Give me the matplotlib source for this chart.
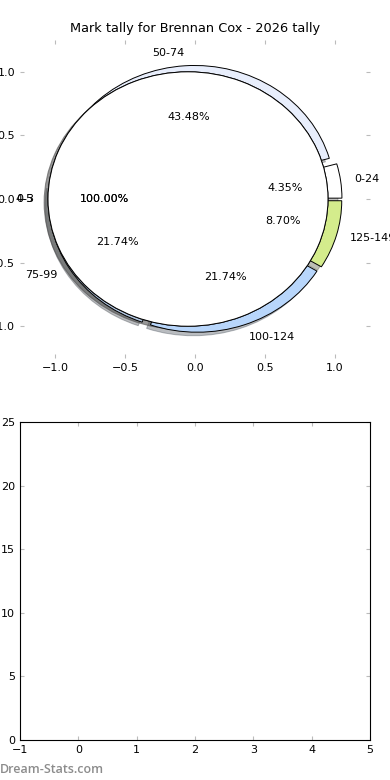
import matplotlib
matplotlib.use('Agg')
import matplotlib.pyplot as plt

# tally data
labels = ['0-24', '50-74', '75-99', '100-124', '125-149']
counts = [1, 10, 5, 5, 2]
colors = ['white', '#e8eefc', '#b0c4de', '#b8d6fb', '#d4ec8c']

# the two single-slice pies drawn on top
extra_labels = ['0-3', '4-5']
extra_counts = [1]

yticks_bar = [0, 5, 10, 15, 20, 25]
xticks_bar = [-1, 0, 1, 2, 3, 4, 5]

plt.rc('font', size=8)
fig = plt.figure(figsize=(3.9, 7.8), dpi=100)

ax1 = fig.add_axes([0.0513, 0.541, 0.8974, 0.4077])
ax1.pie(counts, labels=labels, colors=colors, explode=[0.05] * len(counts),
        autopct='%1.2f%%', shadow={'alpha': 0.35}, startangle=0,
        wedgeprops={'linewidth': 0.7, 'edgecolor': 'black'},
        textprops={'fontsize': 8})
for lab in extra_labels:
    ax1.pie(extra_counts, labels=[lab], colors=['white'], explode=[0.05],
            autopct='%1.2f%%', shadow={'alpha': 0.35}, startangle=0,
            wedgeprops={'linewidth': 0.7, 'edgecolor': 'black'},
            textprops={'fontsize': 8})
ax1.set_aspect('auto')
ax1.set_frame_on(False)
ax1.set_xlim(-1.25, 1.25)
ax1.set_ylim(-1.25, 1.25)
ax1.set_xticks([-1.0, -0.5, 0.0, 0.5, 1.0])
ax1.set_yticks([-1.0, -0.5, 0.0, 0.5, 1.0])
ax1.tick_params(direction='in', color='#bbbbbb', length=3, top=True, right=True,
                labelsize=8)
ax1.set_title('Mark tally for Brennan Cox - 2026 tally', fontsize=9.3)

ax2 = fig.add_axes([0.0513, 0.0513, 0.8974, 0.4077])
ax2.set_xlim(-1, 5)
ax2.set_ylim(0, 25)
ax2.set_xticks(xticks_bar)
ax2.set_yticks(yticks_bar)
ax2.tick_params(direction='in', color='#bbbbbb', length=3, top=True, right=True,
                labelsize=8)

fig.text(0.0, 0.005, 'Dream-Stats.com', color='#8c8c8c', fontsize=9,
         family='Open Sans', fontweight='semibold', ha='left', va='bottom')

fig.savefig('out.png', dpi=100)
